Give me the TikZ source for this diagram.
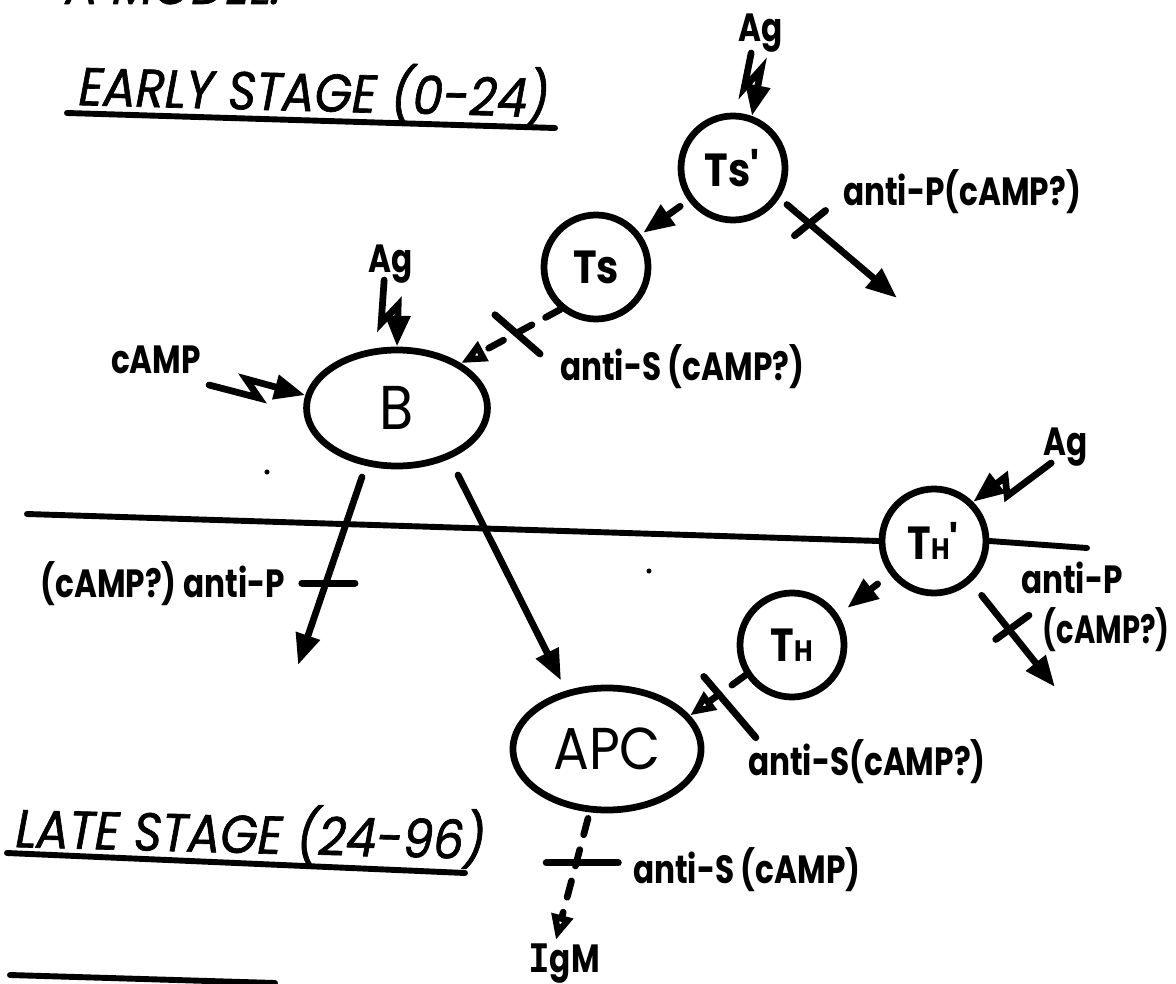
\documentclass[tikz,border=0pt]{standalone}
\usepackage{fontspec}
\setmainfont{Poppins}[FakeStretch=0.9]
\newfontfamily\headf{Poppins}[FakeStretch=0.9, FakeBold=1.2]
\newfontfamily\labf{Poppins}[FakeStretch=0.86, BoldFeatures={FakeStretch=0.86}]
\newfontfamily\monof{DejaVu Sans Mono}
\usetikzlibrary{arrows.meta,shapes.geometric,calc}
\begin{document}
\begin{tikzpicture}[x=0.025cm, y=-0.025cm,
  line width=4.8pt, line cap=round, line join=round,
  cell/.style={circle, draw, line width=4.8pt, minimum size=2.6cm, inner sep=0pt, font=\labf\bfseries\fontsize{33}{33}\selectfont},
  oval/.style={ellipse, draw, line width=4.8pt, inner sep=0pt},
  lab/.style={inner sep=0pt, anchor=base west, xscale=0.92, font=\labf\bfseries\fontsize{28}{32}\selectfont},
  head/.style={inner sep=0pt, anchor=base west, font=\headf\itshape\fontsize{38}{42}\selectfont},
  arr/.style={-{Triangle[length=22pt,width=17pt]}},
  oarr/.style={-{Triangle[open,length=18pt,width=15pt]}, dash pattern=on 12pt off 11pt},
  bolt/.style={-{Triangle[length=22pt,width=17pt]}, line join=miter},
  barline/.style={line width=5pt},
  rule/.style={line width=4.2pt}
]
\useasboundingbox (0,0) rectangle (1176,984);
\clip (0,0) rectangle (1176,984);

% headings
\node[head] (mt) at (62,4) {A MODEL:};
\node[head, rotate=-1.5] (early) at (75,105) {EARLY STAGE (0-24)};
\node[head, rotate=-1.5] (late) at (12,847) {LATE STAGE (24-96)};
\coordinate (u1a) at (67,113); \coordinate (u1b) at (555,128);
\coordinate (u2a) at (7,853);  \coordinate (u2b) at (465,873);
\coordinate (u3a) at (10,975); \coordinate (u3b) at (275,983);
\draw[rule] (u1a) -- (u1b);
\draw[rule] (u2a) -- (u2b);
\draw[rule] (u3a) -- (u3b);

% cells
\node[cell] (tsp) at (733,168) {Ts\textquotesingle};
\node[cell] (ts) at (596,267) {Ts};
\node[cell] (thp) at (934,541) {T{\fontsize{21}{21}\selectfont H}\textquotesingle};
\node[cell] (th) at (792,645) {T{\fontsize{21}{21}\selectfont H}};
\node[oval, minimum width=4.52cm, minimum height=2.9cm, font=\fontsize{44}{44}\selectfont] (b) at (397,408) {B};
\node[oval, minimum width=4.7cm, minimum height=3.05cm, font=\fontsize{42}{42}\selectfont] (apc) at (607,749) {APC};

% labels
\node[lab] (agt) at (735,42) {Ag};
\node[lab] (agb) at (365,273) {Ag};
\node[lab] (agh) at (1040,455) {Ag};
\node[lab] (camp) at (108,373) {cAMP};
\node[lab] (l1) at (840,206) {anti-P(cAMP?)};
\node[lab] (l2) at (557,380) {anti-S (cAMP?)};
\node[lab, anchor=base east] (l3) at (288,597) {(cAMP?) anti-P};
\node[lab] (l4) at (1018,593) {anti-P};
\node[lab, xscale=0.93] (l5) at (1040,643) {(cAMP?)};
\node[lab] (l6) at (745,775) {anti-S(cAMP?)};
\node[lab] (l7) at (630,883) {anti-S (cAMP)};
\node[lab] (igm) at (525,972) {{\monof\bfseries I}gM};

% bolts (antigen / cAMP stimulation)
\draw[bolt] ([shift={(-9,11)}]agt.base) -- ++(-7,35) -- ++(17,-19) -- (tsp.70);
\draw[bolt] ([shift={(-6,7)}]agb.base) -- ++(-3,43) -- ++(17,-18) -- (b.north);
\draw[bolt] ([shift={(53,12)}]camp.base) -- ++(50,13) -- ++(-13,-19) -- (b.172);
\draw[bolt] ([shift={(-14,8)}]agh.base) -- ++(-44,33) -- ++(-2,-19) -- (thp.45);

% early stage connectors
\draw[arr, shorten <=7pt, shorten >=2pt] (tsp.216) -- (ts.36);
\coordinate (e1) at (897,298);
\draw[arr, shorten <=7pt] (tsp.-33) -- coordinate[pos=0.26] (x1) (e1);
\draw[barline] ([shift={(-15.5,11.5)}]x1) -- ([shift={(15.5,-13.5)}]x1);
\draw[oarr] (ts.230) -- coordinate[pos=0.427] (x2) (b.35);
\draw[barline] ([shift={(-23,-17.5)}]x2) -- ([shift={(22,21.5)}]x2);

% B outputs
\coordinate (e2) at (298,665);
\draw[arr] ([shift={(-35,69)}]b.center) -- coordinate[pos=0.564] (x3) (e2);
\draw[barline] ([shift={(-24,0)}]x3) -- ([shift={(29,0)}]x3);
\draw[arr, shorten >=8pt] ([shift={(61,67)}]b.center) -- (apc.125);

% divider
\coordinate (hl) at (27,514); \coordinate (hr) at (1087,548);
\draw[rule] (hl) -- (thp.west);
\draw[rule] (thp.east) -- (hr);

% late stage connectors
\draw[arr, shorten <=11pt, shorten >=8pt] (thp.217) -- (th.33);
\coordinate (e3) at (1055,687);
\draw[arr, shorten <=12pt] (thp.-48) -- coordinate[pos=0.45] (x4) (e3);
\draw[barline] ([shift={(-13,10)}]x4) -- ([shift={(20,-14)}]x4);
\draw[oarr] (th.213) -- coordinate[pos=0.482] (x5) (apc.22);
\draw[barline] ([shift={(-15,-18)}]x5) -- ([shift={(37,43)}]x5);
\draw[oarr] ([shift={(-19,5)}]apc.south) -- coordinate[pos=0.366] (x6) ([shift={(-8,-32)}]igm.base);
\draw[barline] ([shift={(-30,0)}]x6) -- ([shift={(42,0)}]x6);

% specks
\fill (267,472) circle[radius=1.8pt];
\fill (649,571) circle[radius=1.8pt];
\end{tikzpicture}
\end{document}
